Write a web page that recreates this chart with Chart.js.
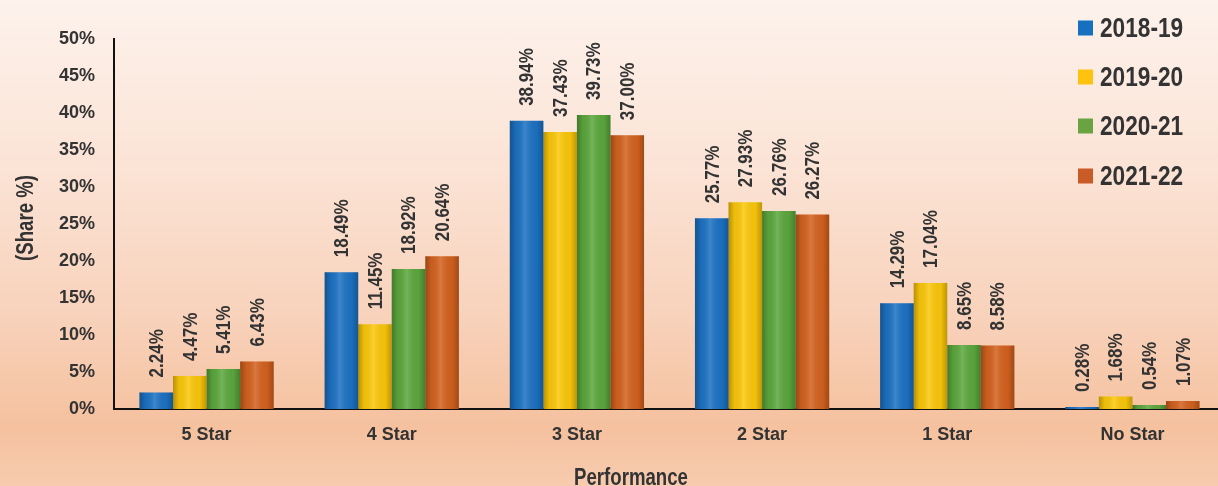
<!DOCTYPE html>
<html>
<head>
<meta charset="utf-8">
<script src="https://cdn.jsdelivr.net/npm/chart.js@4.4.0/dist/chart.umd.min.js"></script>
<style>
  html, body { margin: 0; padding: 0; overflow: hidden; width: 1218px; height: 486px; }
  body { background: linear-gradient(to bottom, #fdf2ec 0%, #fbe3d5 35%, #f8d2bb 65%, #f5c19e 88%, #f7cbaf 100%); }
  #wrap { position: relative; width: 1240px; height: 486px; }
</style>
</head>
<body>
<div id="wrap"><canvas id="c" width="1240" height="486"></canvas></div>
<script>
const categories = ['5 Star', '4 Star', '3 Star', '2 Star', '1 Star', 'No Star'];
const seriesNames = ['2018-19', '2019-20', '2020-21', '2021-22'];
const values2018 = [2.24, 18.49, 38.94, 25.77, 14.29, 0.28];
const values2019 = [4.47, 11.45, 37.43, 27.93, 17.04, 1.68];
const values2020 = [5.41, 18.92, 39.73, 26.76, 8.65, 0.54];
const values2021 = [6.43, 20.64, 37.00, 26.27, 8.58, 1.07];
const yTickValues = [0, 5, 10, 15, 20, 25, 30, 35, 40, 45, 50];
const seriesColors = ['#1c72c4', '#fcc80a', '#5ca83e', '#d4621f'];
const legendColors = ['#1570bf', '#ffc20e', '#6aa341', '#c95b26'];
const xTitle = 'Performance';
const yTitle = '(Share %)';

const FONT = "'Liberation Sans', Arial, sans-serif";
const TXT = '#333333';
const SQUEEZE = 0.81;

const allSeries = [values2018, values2019, values2020, values2021];

const shadePlugin = {
  id: 'shade',
  afterDatasetsDraw(chart) {
    const ctx = chart.ctx;
    chart.data.datasets.forEach((ds, di) => {
      const meta = chart.getDatasetMeta(di);
      meta.data.forEach((bar) => {
        const l = bar.x - bar.width / 2, r = bar.x + bar.width / 2;
        const g = ctx.createLinearGradient(l, 0, r, 0);
        g.addColorStop(0, 'rgba(0,0,0,0.28)');
        g.addColorStop(0.18, 'rgba(0,0,0,0.05)');
        g.addColorStop(0.45, 'rgba(255,255,255,0.14)');
        g.addColorStop(0.8, 'rgba(0,0,0,0.04)');
        g.addColorStop(1, 'rgba(0,0,0,0.25)');
        ctx.save();
        ctx.fillStyle = g;
        ctx.fillRect(l, bar.y, bar.width, bar.base - bar.y);
        ctx.restore();
      });
    });
  }
};

const labelPlugin = {
  id: 'valueLabels',
  afterDatasetsDraw(chart) {
    const ctx = chart.ctx;
    ctx.save();
    ctx.font = 'bold 21px ' + FONT;
    ctx.fillStyle = TXT;
    ctx.textAlign = 'left';
    ctx.textBaseline = 'middle';
    chart.data.datasets.forEach((ds, di) => {
      const meta = chart.getDatasetMeta(di);
      meta.data.forEach((bar, i) => {
        ctx.save();
        ctx.translate(bar.x + 1, bar.y - 15);
        ctx.rotate(-Math.PI / 2);
        ctx.scale(SQUEEZE, 1);
        ctx.fillText(ds.data[i].toFixed(2) + '%', 0, 0);
        ctx.restore();
      });
    });
    ctx.restore();
  }
};

function squeezedText(ctx, text, x, y, align) {
  ctx.save();
  ctx.translate(x, y);
  ctx.scale(SQUEEZE, 1);
  ctx.textAlign = align;
  ctx.fillText(text, 0, 0);
  ctx.restore();
}

const extrasPlugin = {
  id: 'extras',
  afterDraw(chart) {
    const ctx = chart.ctx;
    ctx.save();
    ctx.textBaseline = 'middle';
    ctx.font = 'bold 28px ' + FONT;
    const ys = [28, 77, 126, 176];
    seriesNames.forEach((name, i) => {
      ctx.fillStyle = legendColors[i];
      ctx.fillRect(1078, ys[i] - 7.5, 15, 15);
      ctx.fillStyle = TXT;
      squeezedText(ctx, name, 1100, ys[i] + 1, 'left');
    });
    ctx.font = 'bold 23px ' + FONT;
    squeezedText(ctx, xTitle, 631, 479, 'center');
    ctx.save();
    ctx.translate(27, 218);
    ctx.rotate(-Math.PI / 2);
    ctx.scale(SQUEEZE, 1);
    ctx.textAlign = 'center';
    ctx.fillText(yTitle, 0, 0);
    ctx.restore();
    ctx.restore();
  }
};

new Chart(document.getElementById('c'), {
  type: 'bar',
  data: {
    labels: categories,
    datasets: allSeries.map((vals, i) => ({
      label: seriesNames[i],
      data: vals,
      backgroundColor: seriesColors[i],
      borderWidth: 0,
      barPercentage: 1,
      categoryPercentage: 0.725
    }))
  },
  options: {
    responsive: false,
    animation: false,
    layout: { padding: { top: 39, right: 15, left: 0, bottom: 0 } },
    plugins: { legend: { display: false }, tooltip: { enabled: false } },
    scales: {
      x: {
        grid: { display: false, drawTicks: false },
        border: { display: true, color: '#111', width: 2 },
        ticks: { color: TXT, font: { family: FONT, size: 18, weight: 'bold' }, padding: 15, maxRotation: 0 },
        afterFit(scale) { scale.height = 77; }
      },
      y: {
        min: 0, max: 50,
        afterBuildTicks(scale) { scale.ticks = yTickValues.map(v => ({ value: v })); },
        grid: { display: false, drawTicks: false },
        border: { display: true, color: '#111', width: 2 },
        ticks: { color: TXT, font: { family: FONT, size: 18, weight: 'bold' }, padding: 19, callback: v => v + '%' },
        afterFit(scale) { scale.width = 114; }
      }
    }
  },
  plugins: [shadePlugin, labelPlugin, extrasPlugin]
});
</script>
</body>
</html>
